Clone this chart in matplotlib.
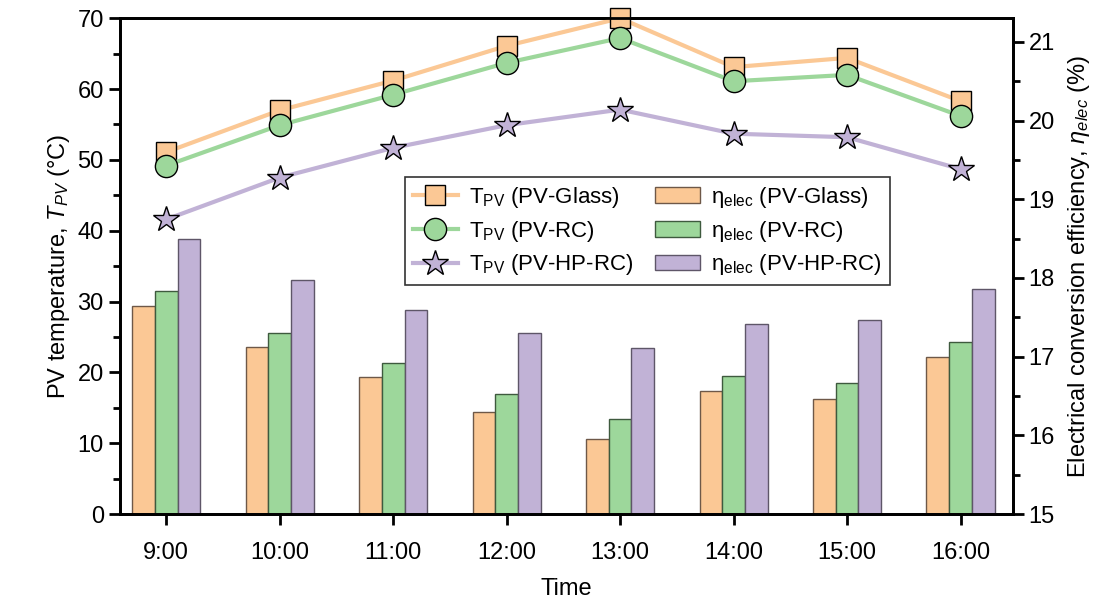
import numpy as np
import matplotlib.pyplot as plt
from matplotlib.ticker import MultipleLocator

plt.rcParams['font.family'] = ['Liberation Sans', 'DejaVu Sans']
plt.rcParams['mathtext.fontset'] = 'custom'
plt.rcParams['mathtext.rm'] = 'Liberation Sans'
plt.rcParams['mathtext.it'] = 'Liberation Sans:italic'

# data
times = ['9:00', '10:00', '11:00', '12:00', '13:00', '14:00', '15:00', '16:00']
t_glass = [51.1, 57.0, 61.2, 66.1, 70.0, 63.1, 64.4, 58.3]
t_rc = [49.2, 54.9, 59.2, 63.7, 67.2, 61.1, 62.0, 56.2]
t_hprc = [41.6, 47.5, 51.7, 54.9, 57.1, 53.7, 53.2, 48.7]
eff_glass = [17.65, 17.12, 16.74, 16.30, 15.96, 16.57, 16.46, 17.00]
eff_rc = [17.83, 17.30, 16.92, 16.52, 16.21, 16.75, 16.67, 17.19]
eff_hprc = [18.50, 17.97, 17.59, 17.30, 17.11, 17.41, 17.46, 17.86]

c_or = '#fbc895'
c_gr = '#9dd79b'
c_pu = '#c1b2d6'
e_or = '#6e5848'
e_gr = '#3e5a3e'
e_pu = '#5e5668'

fig = plt.figure(figsize=(11.19, 6.07), dpi=100)
ax = fig.add_axes([0.107, 0.153, 0.798, 0.817])
ax2 = ax.twinx()

x = np.arange(len(times))
w = 0.2
b1 = ax2.bar(x - w, eff_glass, w, color=c_or, edgecolor=e_or, linewidth=1, label=r'η$_{\mathrm{elec}}$ (PV-Glass)')
b2 = ax2.bar(x, eff_rc, w, color=c_gr, edgecolor=e_gr, linewidth=1, label=r'η$_{\mathrm{elec}}$ (PV-RC)')
b3 = ax2.bar(x + w, eff_hprc, w, color=c_pu, edgecolor=e_pu, linewidth=1, label=r'η$_{\mathrm{elec}}$ (PV-HP-RC)')

l1, = ax.plot(x, t_glass, '-s', color=c_or, lw=3, ms=14, mfc=c_or, mec='black', mew=1, clip_on=False, label=r'T$_{\mathrm{PV}}$ (PV-Glass)')
l2, = ax.plot(x, t_rc, '-o', color=c_gr, lw=3, ms=16, mfc=c_gr, mec='black', mew=1, clip_on=False, label=r'T$_{\mathrm{PV}}$ (PV-RC)')
l3, = ax.plot(x, t_hprc, '-*', color=c_pu, lw=3, ms=19, mfc=c_pu, mec='black', mew=1, clip_on=False, label=r'T$_{\mathrm{PV}}$ (PV-HP-RC)')

ax.set_zorder(ax2.get_zorder() + 1)
ax.patch.set_visible(False)

ax.set_xlim(-0.41, 7.46)
ax.set_ylim(0, 70)
ax2.set_ylim(15, 21.3)
ax.set_xticks(x)
ax.set_xticklabels(times)
ax.yaxis.set_major_locator(MultipleLocator(10))
ax.yaxis.set_minor_locator(MultipleLocator(5))
ax2.yaxis.set_major_locator(MultipleLocator(1))
ax2.yaxis.set_minor_locator(MultipleLocator(0.5))

for a in (ax, ax2):
    for s in a.spines.values():
        s.set_linewidth(2)
    a.tick_params(which='major', direction='out', length=8, width=2, labelsize=17)
    a.tick_params(which='minor', direction='out', length=5, width=2)
ax.tick_params(axis='x', pad=12)

ax.set_xlabel('Time', fontsize=17, labelpad=10)
ax.set_ylabel(r'PV temperature, $T_{PV}$ (°C)', fontsize=17)
ax2.set_ylabel(r'Electrical conversion efficiency, $\eta_{elec}$ (%)', fontsize=17, labelpad=8)

leg = ax.legend([l1, l2, l3, b1, b2, b3],
                [h.get_label() for h in (l1, l2, l3, b1, b2, b3)],
                ncol=2, loc='upper left', bbox_to_anchor=(0.32, 0.68), borderaxespad=0,
                fontsize=16, fancybox=False, edgecolor='#333333', framealpha=1,
                handlelength=2.0, handletextpad=0.5, columnspacing=1.0,
                labelspacing=0.4, borderpad=0.35)
leg.get_frame().set_linewidth(1.2)

fig.savefig('out.png', dpi=100)
